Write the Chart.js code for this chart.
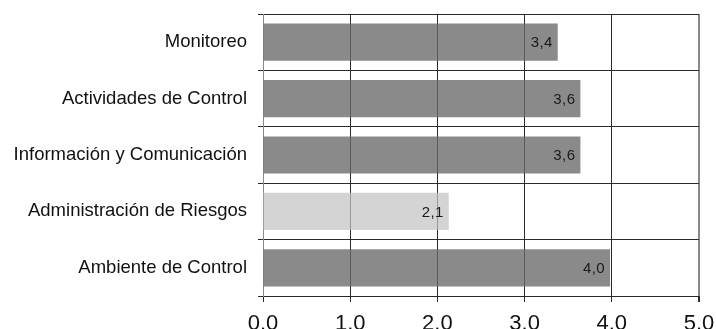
<!DOCTYPE html>
<html>
<head>
<meta charset="utf-8">
<script src="https://cdn.jsdelivr.net/npm/chart.js@4.4.1/dist/chart.umd.min.js"></script>
<style>
  html, body { margin: 0; padding: 0; background: #fff; }
  #wrap { width: 716px; height: 329px; position: relative; }
</style>
</head>
<body>
<div id="wrap"><canvas id="c"></canvas></div>
<script>
// Componentes evaluados y su puntaje promedio (escala 0-5)
const categories = [
  'Monitoreo',
  'Actividades de Control',
  'Información y Comunicación',
  'Administración de Riesgos',
  'Ambiente de Control'
];
const scores = [3.38, 3.64, 3.64, 2.13, 3.98];
const barColors = [
  'rgba(105,105,105,0.78)',
  'rgba(105,105,105,0.78)',
  'rgba(105,105,105,0.78)',
  'rgba(195,195,195,0.72)',
  'rgba(105,105,105,0.78)'
];
const xTicks = [0, 1, 2, 3, 4, 5];

// Etiqueta de valor al final de cada barra, con coma decimal
const valueLabels = {
  id: 'valueLabels',
  afterDatasetsDraw(chart) {
    const ctx = chart.ctx;
    const meta = chart.getDatasetMeta(0);
    ctx.save();
    ctx.font = '15px "Liberation Sans", Arial, sans-serif';
    ctx.letterSpacing = '0.4px';
    ctx.fillStyle = '#1a1a1a';
    ctx.textAlign = 'right';
    ctx.textBaseline = 'middle';
    meta.data.forEach((bar, i) => {
      const txt = scores[i].toFixed(1).replace('.', ',');
      ctx.fillText(txt, bar.x - 5, bar.y + 1);
    });
    ctx.restore();
  }
};

new Chart(document.getElementById('c'), {
  type: 'bar',
  data: {
    labels: categories,
    datasets: [{
      data: scores,
      backgroundColor: barColors,
      borderWidth: 0,
      categoryPercentage: 1,
      barPercentage: 0.66
    }]
  },
  options: {
    indexAxis: 'y',
    responsive: true,
    maintainAspectRatio: false,
    animation: false,
    layout: { padding: { top: 14, right: 17, left: 0, bottom: 0 } },
    plugins: { legend: { display: false }, tooltip: { enabled: false } },
    scales: {
      x: {
        min: 0,
        max: 5,
        afterBuildTicks(scale) { scale.ticks = xTicks.map(v => ({ value: v })); },
        afterFit(scale) {
          scale.height = 33;
          scale.paddingLeft = 0;
          scale.paddingRight = 0;
        },
        ticks: {
          padding: 9,
          color: '#111',
          maxRotation: 0,
          font: { family: '"Liberation Sans", Arial, sans-serif', size: 22 },
          callback: v => Number(v).toFixed(1)
        },
        grid: {
          color: ctx => (ctx.index === 0 || ctx.index === xTicks.length - 1) ? '#8a8a8a' : '#2a2a2a',
          lineWidth: ctx => ctx.index === xTicks.length - 1 ? 2 : 1,
          tickLength: 6,
          tickColor: '#2a2a2a'
        },
        border: { color: '#2a2a2a', width: 1 }
      },
      y: {
        afterFit(scale) {
          scale.width = 263;
          scale.paddingTop = 0;
          scale.paddingBottom = 0;
        },
        ticks: {
          padding: 11,
          color: '#111',
          font: { family: '"Liberation Sans", Arial, sans-serif', size: 18.5 }
        },
        grid: {
          offset: true,
          color: '#2a2a2a',
          lineWidth: 1,
          tickLength: 5
        },
        border: { color: '#8a8a8a', width: 1 }
      }
    }
  },
  plugins: [valueLabels]
});
</script>
</body>
</html>
